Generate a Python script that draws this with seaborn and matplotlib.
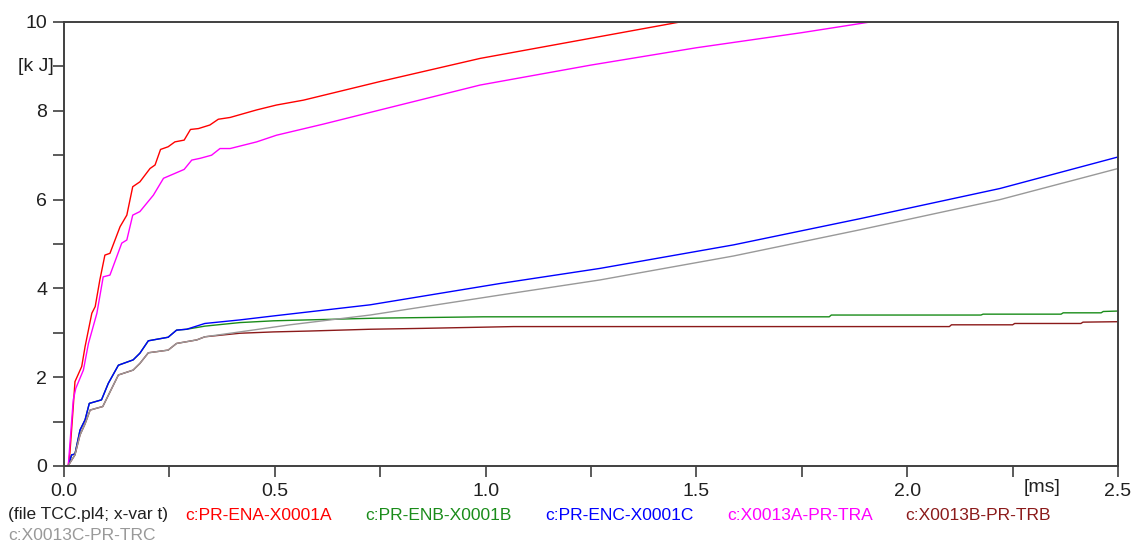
import matplotlib
matplotlib.use("Agg")
import matplotlib.pyplot as plt
import seaborn as sns

# Time axis in ms, energies in kJ
red_t = [0.0, 0.010, 0.014, 0.022, 0.026, 0.042, 0.050, 0.066, 0.074, 0.085, 0.097, 0.109,
         0.133, 0.149, 0.163, 0.180, 0.204, 0.216, 0.229, 0.247, 0.263, 0.285, 0.300, 0.319,
         0.346, 0.366, 0.394, 0.457, 0.504, 0.568, 0.750, 0.987, 1.224, 1.461]
red_v = [0.0, 0.0, 0.29, 1.34, 1.90, 2.24, 2.69, 3.44, 3.59, 4.19, 4.75, 4.79,
         5.39, 5.65, 6.29, 6.40, 6.70, 6.78, 7.13, 7.19, 7.30, 7.34, 7.58, 7.60,
         7.68, 7.81, 7.85, 8.02, 8.13, 8.24, 8.66, 9.18, 9.59, 10.0]

green_t = [0.0, 0.010, 0.018, 0.026, 0.038, 0.050, 0.060, 0.089, 0.105, 0.129, 0.164, 0.180,
           0.200, 0.247, 0.267, 0.291, 0.334, 0.417, 0.497, 0.576, 0.742, 0.994, 1.815, 1.820,
           2.175, 2.180, 2.365, 2.370, 2.460, 2.465, 2.500]
green_v = [0.0, 0.0, 0.25, 0.27, 0.81, 1.04, 1.41, 1.49, 1.86, 2.27, 2.39, 2.54,
           2.82, 2.90, 3.06, 3.08, 3.15, 3.23, 3.27, 3.29, 3.33, 3.36, 3.36, 3.40,
           3.40, 3.42, 3.42, 3.45, 3.45, 3.48, 3.49]

blue_t = [0.0, 0.010, 0.018, 0.026, 0.038, 0.050, 0.060, 0.089, 0.105, 0.129, 0.164, 0.180,
          0.200, 0.247, 0.267, 0.291, 0.334, 0.417, 0.497, 0.607, 0.726, 1.034, 1.271, 1.588,
          1.888, 2.220, 2.500]
blue_v = [0.0, 0.0, 0.25, 0.27, 0.81, 1.04, 1.41, 1.49, 1.86, 2.27, 2.39, 2.54,
          2.82, 2.90, 3.06, 3.08, 3.21, 3.29, 3.38, 3.50, 3.63, 4.11, 4.45, 4.98,
          5.57, 6.25, 6.96]

magenta_t = [0.0, 0.010, 0.022, 0.028, 0.046, 0.058, 0.078, 0.093, 0.109, 0.137, 0.149, 0.163,
             0.180, 0.212, 0.236, 0.263, 0.285, 0.303, 0.323, 0.350, 0.370, 0.394, 0.457, 0.504,
             0.615, 0.750, 0.987, 1.250, 1.500, 1.750, 1.912]
magenta_v = [0.0, 0.0, 1.49, 1.75, 2.16, 2.76, 3.44, 4.26, 4.30, 5.02, 5.09, 5.65,
             5.73, 6.10, 6.48, 6.59, 6.68, 6.89, 6.93, 7.00, 7.15, 7.15, 7.30, 7.45,
             7.70, 8.02, 8.58, 9.03, 9.42, 9.76, 10.0]

darkred_t = [0.0, 0.010, 0.014, 0.026, 0.038, 0.050, 0.062, 0.092, 0.129, 0.164, 0.180, 0.200,
             0.247, 0.267, 0.315, 0.334, 0.417, 0.497, 0.583, 0.726, 0.852, 1.066, 2.100, 2.105,
             2.250, 2.255, 2.412, 2.417, 2.500]
darkred_v = [0.0, 0.0, 0.07, 0.25, 0.70, 0.95, 1.26, 1.34, 2.05, 2.16, 2.31, 2.55,
             2.61, 2.76, 2.84, 2.91, 2.99, 3.02, 3.04, 3.08, 3.10, 3.14, 3.14, 3.18,
             3.18, 3.21, 3.21, 3.24, 3.25]

gray_t = [0.0, 0.010, 0.014, 0.026, 0.038, 0.050, 0.062, 0.092, 0.129, 0.164, 0.180, 0.200,
          0.247, 0.267, 0.315, 0.334, 0.417, 0.536, 0.726, 1.034, 1.271, 1.588, 1.888, 2.220,
          2.500]
gray_v = [0.0, 0.0, 0.07, 0.25, 0.70, 0.95, 1.26, 1.34, 2.05, 2.16, 2.31, 2.55,
          2.61, 2.76, 2.84, 2.91, 3.02, 3.18, 3.40, 3.85, 4.19, 4.73, 5.32, 6.00,
          6.70]

series_names = ["c:PR-ENA-X0001A", "c:PR-ENB-X0001B", "c:PR-ENC-X0001C",
                "c:X0013A-PR-TRA", "c:X0013B-PR-TRB", "c:X0013C-PR-TRC"]
series_t = [red_t, green_t, blue_t, magenta_t, darkred_t, gray_t]
series_v = [red_v, green_v, blue_v, magenta_v, darkred_v, gray_v]
series_colors = ["#ff0000", "#1a8c1a", "#0000ff", "#ff00ff", "#8b1a1a", "#999999"]

x_ticks = [0.0, 0.25, 0.5, 0.75, 1.0, 1.25, 1.5, 1.75, 2.0, 2.25, 2.5]
x_ticklabels = ["0.0", "", "0.5", "", "1.0", "", "1.5", "", "2.0", "", "2.5"]
y_ticks = [0, 1, 2, 3, 4, 5, 6, 7, 8, 9, 10]
y_ticklabels = ["0", "", "2", "", "4", "", "6", "", "8", "", "10"]

sns.set_theme(style="white")
plt.rcParams["font.family"] = ["Liberation Sans", "DejaVu Sans"]

fig = plt.figure(figsize=(11.37, 5.43), dpi=100)
ax = fig.add_axes([64 / 1137, 1 - 466 / 543, (1118 - 64) / 1137, (466 - 22) / 543])

for t, v, c in zip(series_t, series_v, series_colors):
    sns.lineplot(x=t, y=v, color=c, linewidth=1.0, sort=False, estimator=None, ax=ax)

ax.set_xlim(0, 2.5)
ax.set_ylim(0, 10)
ax.set_xticks(x_ticks)
ax.set_xticklabels(x_ticklabels)
ax.set_yticks(y_ticks)
ax.set_yticklabels(y_ticklabels)
ax.tick_params(axis="both", direction="out", length=8, width=1.2, color="#404040",
               labelsize=14, labelcolor="#202020", pad=4)
ax.tick_params(top=False, right=False, left=True, bottom=True)
for sp in ax.spines.values():
    sp.set_color("#404040")
    sp.set_linewidth(1.4)
    sp.set_visible(True)
ax.set_xlabel("")
ax.set_ylabel("")

# unit labels beside the axes
ax.text(-0.0095, 9, "[k J]", transform=ax.get_yaxis_transform(), ha="right", va="center",
        fontsize=14, color="#202020")
ax.text(2.275, -0.3, "[ms]", transform=ax.transData, ha="left", va="top",
        fontsize=14, color="#202020", clip_on=False)

# legend row beneath the plot
fig.text(8 / 1137, 1 - 515 / 543, "(file TCC.pl4; x-var t)", ha="left", va="center",
         fontsize=12.5, color="#202020")
legend_x = [185, 365, 545, 727, 905]
for name, c, xp in zip(series_names[:5], series_colors[:5], legend_x):
    fig.text(xp / 1137, 1 - 515 / 543, name, ha="left", va="center", fontsize=12.5, color=c)
fig.text(8 / 1137, 1 - 536 / 543, series_names[5], ha="left", va="center",
         fontsize=12.5, color=series_colors[5])

fig.savefig("out.png", dpi=100)
